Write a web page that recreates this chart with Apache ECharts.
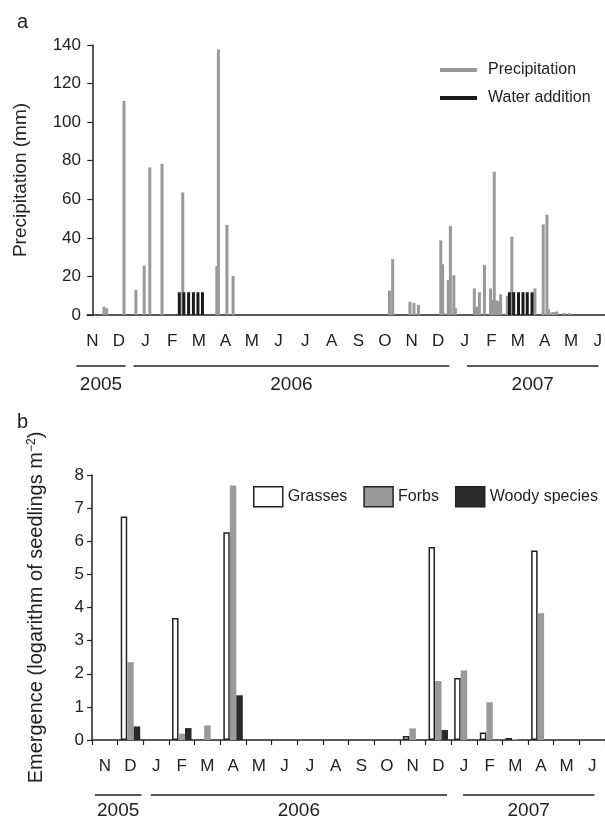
<!DOCTYPE html>
<html>
<head>
<meta charset="utf-8">
<script src="https://cdn.jsdelivr.net/npm/echarts@6/dist/echarts.min.js"></script>
<style>
html,body{margin:0;padding:0;background:#fff;}
#chart{width:605px;height:820px;}
</style>
</head>
<body>
<div id="chart"></div>
<script>
// ---------- DATA ----------
// Panel a: x position in months (0 = Nov 2005 label, 1 = Dec 2005, ...), value in mm
var monthLetters = ['N','D','J','F','M','A','M','J','J','A','S','O','N','D','J','F','M','A','M','J'];
var precipitation = [
  [0.44,4.3],[0.54,3.5],[1.19,111],[1.64,13],[1.95,25.6],[2.16,76.5],[2.62,78.4],[3.40,63.6],
  [4.68,25.4],[4.74,137.7],[5.06,46.7],[5.29,20.2],
  [11.17,12.6],[11.29,29],[11.94,6.9],[12.09,6.3],[12.26,5.2],
  [13.10,38.7],[13.17,26.3],[13.38,18.1],[13.46,46.2],[13.59,20.7],[13.65,3.5],
  [14.36,13.8],[14.45,4.3],[14.55,11.8],[14.74,25.9],[14.97,13.8],[15.04,7.8],[15.11,74.3],
  [15.20,7.6],[15.27,7],[15.35,10.7],[15.60,10],[15.77,40.6],[16.64,13.8],
  [16.95,47],[17.09,52],[17.15,3],[17.29,1.5],[17.37,1.5],[17.46,1.8],[17.73,1],[17.92,1]
];
var waterAddition = [
  [3.27,11.8],[3.44,11.8],[3.62,11.8],[3.80,11.8],[3.97,11.8],[4.14,11.8],
  [15.68,11.8],[15.84,11.8],[16.02,11.8],[16.19,11.8],[16.35,11.8],[16.53,11.8]
];
var precipTicks = [0,20,40,60,80,100,120,140];
// year brackets: [from, to] in month units of each panel (0 = centre of first month)
var years = ['2005','2006','2007'];
var yearSpansA = [[-0.6,1.25],[1.55,13.42],[14.08,19.03]];
var yearSpansB = [[-0.39,1.43],[1.79,13.34],[13.96,19.09]];

// Panel b: emergence per month (log seedlings m-2)
var grasses = [null,6.75,null,3.68,null,6.27,null,null,null,null,null,null,0.12,5.83,1.87,0.23,0.06,5.72,null,null];
var forbs   = [null,2.35,null,0.19,0.44,7.68,null,null,null,null,null,null,0.35,1.78,2.10,1.14,0.03,3.83,null,null];
var woody   = [null,0.41,null,0.36,null,1.35,null,null,null,null,null,null,null,0.30,null,null,null,null,null,null];
var emergenceTicks = [0,1,2,3,4,5,6,7,8];

// ---------- CHART ----------
var FONT = '"Liberation Sans", Arial, Helvetica, sans-serif';
var INK = '#222';
var chart = echarts.init(document.getElementById('chart'), null, {renderer:'canvas'});

// draws year brackets; positions via the axis scale (month unit -> pixels)
function yearRenderer(spans, lineOff, labelOff, isCategory) {
  return function (params, api) {
    var i = params.dataIndex;
    var p0 = api.coord([0, 0]);
    var unit;
    if (isCategory) {
      unit = api.size([1, 0])[0];
    } else {
      unit = api.coord([1, 0])[0] - p0[0];
    }
    var x1 = p0[0] + spans[i][0] * unit;
    var x2 = p0[0] + spans[i][1] * unit;
    var y = p0[1];
    return {
      type: 'group',
      children: [
        {type:'line', shape:{x1:x1, y1:y+lineOff, x2:x2, y2:y+lineOff},
         style:{stroke:INK, lineWidth:1.3}},
        {type:'text', x:(x1+x2)/2, y:y+labelOff,
         style:{text:years[i], fill:INK, font:'19px ' + FONT, align:'center', verticalAlign:'middle'}}
      ]
    };
  };
}

var option = {
  backgroundColor: '#fff',
  animation: false,
  textStyle: {fontFamily: FONT, color: INK},
  title: [
    {text:'a', left:12, top:7, textStyle:{fontSize:20, fontWeight:'normal', color:INK, fontFamily:FONT}},
    {text:'b', left:12, top:407, textStyle:{fontSize:20, fontWeight:'normal', color:INK, fontFamily:FONT}}
  ],
  legend: [
    {
      orient:'vertical', left:435, top:57, itemWidth:37, itemHeight:4, itemGap:12, icon:'rect',
      data:['Precipitation','Water addition'],
      textStyle:{fontSize:16, lineHeight:16, color:INK, fontFamily:FONT, padding:[0,0,0,6]}
    },
    {
      orient:'horizontal', left:248, top:481, width:400, itemWidth:29, itemHeight:20, itemGap:16, icon:'rect',
      data:['Grasses','Forbs','Woody species'],
      itemStyle:{borderColor:INK, borderWidth:1.5},
      textStyle:{fontSize:16, color:INK, fontFamily:FONT}
    }
  ],
  grid: [
    {left:87, top:45, width:518, height:270},
    {left:92, top:475, width:513, height:265}
  ],
  xAxis: [
    {
      gridIndex:0, type:'value', min:-0.2, max:19.27,
      axisLine:{show:true, lineStyle:{color:INK, width:1.5}},
      axisTick:{show:false}, splitLine:{show:false},
      axisLabel:{customValues: monthLetters.map(function(_, i){return i;}),
        formatter:function(v){return monthLetters[Math.round(v)];},
        fontSize:17, color:INK, margin:18, fontFamily:FONT}
    },
    {
      gridIndex:1, type:'category', data:monthLetters, boundaryGap:true,
      axisLine:{show:true, lineStyle:{color:INK, width:1.5}},
      axisTick:{show:true, length:5, lineStyle:{color:INK, width:1.2}},
      splitLine:{show:false},
      axisLabel:{fontSize:17, color:INK, margin:18, interval:0, fontFamily:FONT}
    }
  ],
  yAxis: [
    {
      gridIndex:0, type:'value', min:precipTicks[0], max:precipTicks[precipTicks.length-1], interval:20,
      name:'Precipitation (mm)', nameLocation:'middle', nameGap:57, nameRotate:90,
      nameTextStyle:{fontSize:19, color:INK, fontFamily:FONT},
      axisLine:{show:true, lineStyle:{color:INK, width:1.5}},
      axisTick:{show:true, length:5, lineStyle:{color:INK, width:1.2}},
      splitLine:{show:false},
      axisLabel:{fontSize:17, color:INK, margin:6, fontFamily:FONT}
    },
    {
      gridIndex:1, type:'value', min:emergenceTicks[0], max:emergenceTicks[emergenceTicks.length-1], interval:1,
      name:'Emergence (logarithm of seedlings m{sup|\u22122})', nameLocation:'middle', nameGap:46, nameRotate:90,
      nameTextStyle:{fontSize:20, color:INK, fontFamily:FONT,
        rich:{sup:{fontSize:12, color:INK, fontFamily:FONT, verticalAlign:'top', lineHeight:12, padding:[0,0,6,0]}}},
      axisLine:{show:true, lineStyle:{color:INK, width:1.5}},
      axisTick:{show:true, length:5, lineStyle:{color:INK, width:1.2}},
      splitLine:{show:false},
      axisLabel:{fontSize:17, color:INK, margin:8, fontFamily:FONT}
    }
  ],
  series: [
    {name:'Precipitation', type:'bar', xAxisIndex:0, yAxisIndex:0, data:precipitation,
     barWidth:3, barGap:'-100%', itemStyle:{color:'#999999'}},
    {name:'Water addition', type:'bar', xAxisIndex:0, yAxisIndex:0, data:waterAddition,
     barWidth:3, barGap:'-100%', itemStyle:{color:'#1a1a1a'}},
    {type:'custom', xAxisIndex:0, yAxisIndex:0, data:yearSpansA.map(function(s,i){return [s[0], s[1], i];}),
     encode:{x:[0,1]}, clip:false, silent:true, renderItem:yearRenderer(yearSpansA, 51, 70, false)},
    {name:'Grasses', type:'bar', xAxisIndex:1, yAxisIndex:1, data:grasses,
     barWidth:6.5, barGap:'0%', itemStyle:{color:'#ffffff', borderColor:INK, borderWidth:1.5}},
    {name:'Forbs', type:'bar', xAxisIndex:1, yAxisIndex:1, data:forbs,
     barWidth:6.5, barGap:'0%', itemStyle:{color:'#9a9a9a'}},
    {name:'Woody species', type:'bar', xAxisIndex:1, yAxisIndex:1, data:woody,
     barWidth:6.5, barGap:'0%', itemStyle:{color:'#2a2a2a'}},
    {type:'custom', xAxisIndex:1, yAxisIndex:1, data:yearSpansB.map(function(s,i){return [i, i, i];}),
     encode:{x:[0]}, clip:false, silent:true, renderItem:yearRenderer(yearSpansB, 55, 71, true)}
  ]
};
chart.setOption(option);
</script>
</body>
</html>
